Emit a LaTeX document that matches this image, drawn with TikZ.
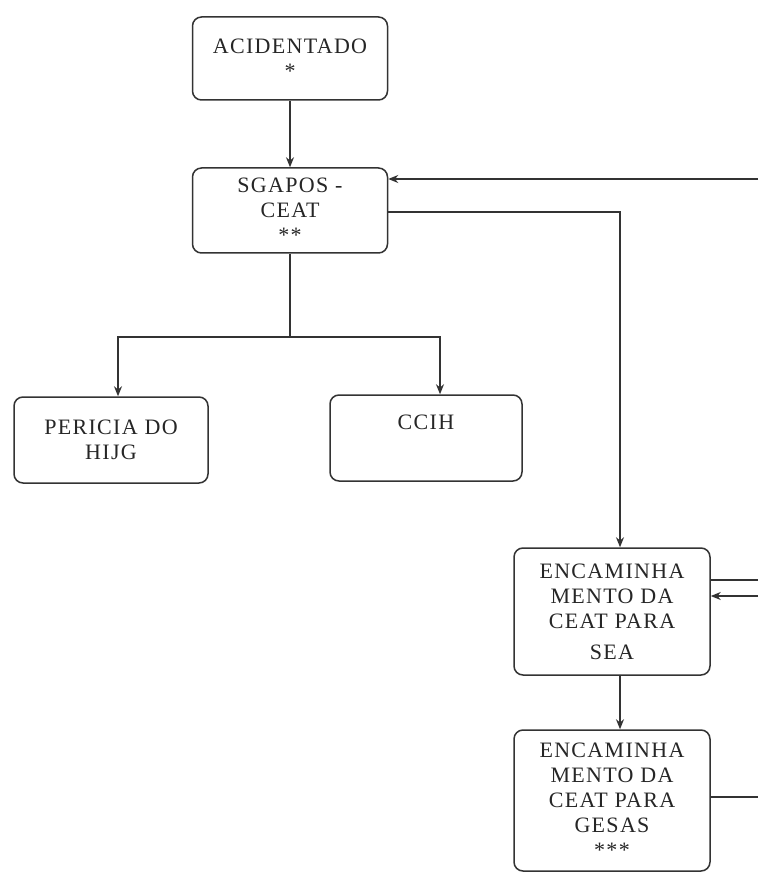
\documentclass[tikz,border=0pt]{standalone}
\usepackage{fontspec}
\setmainfont[LetterSpace=6]{Liberation Serif}
\usetikzlibrary{arrows.meta}
\begin{document}
\begin{tikzpicture}[x=1pt,y=-1pt,
  box/.style={draw=black!80, line width=1.5pt, rounded corners=9pt, align=center,
    inner sep=0pt, font=\fontsize{22}{25}\selectfont, text=black!85},
  conn/.style={draw=black!80, line width=1.5pt},
  arr/.style={conn, -{Stealth[length=10pt,width=8pt]}}]
\useasboundingbox (0,0) rectangle (758,874);
% boxes
\node[box, minimum width=195pt, minimum height=83pt] (acc) at (290,58.5) {ACIDENTADO\\*};
\node[box, minimum width=195pt, minimum height=85pt] (sg) at (290,210.5) {SGAPOS -\\CEAT\\**};
\node[box, minimum width=194pt, minimum height=86pt] (per) at (111,440) {PERICIA DO\\HIJG};
\node[box, minimum width=192pt, minimum height=86pt] (ccih) at (426,438) {CCIH\\\strut};
\node[box, minimum width=196pt, minimum height=127pt] (enc1) at (612,611.5) {ENCAMINHA\\MENTO DA\\CEAT PARA\\[6pt]SEA};
\node[box, minimum width=196pt, minimum height=141pt] (enc2) at (612,800.5) {ENCAMINHA\\MENTO DA\\CEAT PARA\\GESAS\\***};
% helper coordinates
\coordinate (sp) at (290,337);
\coordinate (pa) at (118,337);
\coordinate (ca) at (440,337);
\coordinate (ex) at (620,212);
\coordinate (r1) at (758,179);
\coordinate (r2) at (758,580);
\coordinate (r3) at (758,596);
\coordinate (r4) at (758,797);
% connectors
\draw[arr] (acc.south) -- (acc.south |- sg.north);
\draw[arr] (sg.south) |- (pa) -- (pa |- per.north);
\draw[arr] (sp) -| (ca |- ccih.north);
\draw[arr] (r1) -- (r1 -| sg.east);
\draw[arr] (sg.east |- ex) -- (ex) -- (ex |- enc1.north);
\draw[conn] (enc1.east |- r2) -- (r2);
\draw[arr] (r3) -- (r3 -| enc1.east);
\draw[arr] (enc1.south -| ex) -- (enc2.north -| ex);
\draw[conn] (enc2.east |- r4) -- (r4);
\end{tikzpicture}
\end{document}
